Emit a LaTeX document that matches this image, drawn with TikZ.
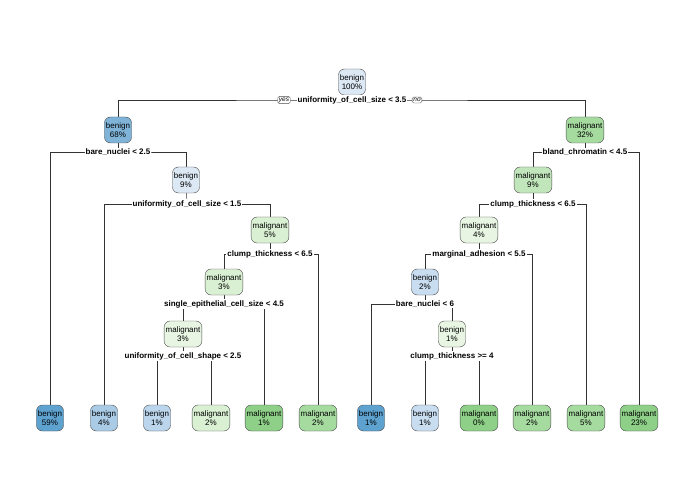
\documentclass[tikz,border=0pt]{standalone}
\usepackage{fontspec}
\setmainfont{Liberation Sans}
\usetikzlibrary{backgrounds}
\begin{document}
\begin{tikzpicture}[x=1pt,y=-1pt,
		tnode/.style={draw=black!70,rounded corners=6pt,align=center,inner sep=1.5pt,
			minimum height=26pt,font=\fontsize{8}{9}\selectfont},
		snode/.style={fill=white,font=\fontsize{8}{9}\selectfont\bfseries,inner sep=1pt},
		ynode/.style={draw=black!70,fill=white,rounded corners=1.5pt,inner sep=1.2pt,font=\fontsize{6.5}{7}\selectfont\itshape},
		edge/.style={draw=black!80,line width=0.5pt}]
	\definecolor{b1}{HTML}{DCE8F4}
	\definecolor{b2}{HTML}{7FB3D8}
	\definecolor{b3}{HTML}{5EA2D0}
	\definecolor{b4}{HTML}{A9CBE6}
	\definecolor{b5}{HTML}{BAD5EC}
	\definecolor{b6}{HTML}{C9DDF0}
	\definecolor{g1}{HTML}{A6DBA0}
	\definecolor{g2}{HTML}{C2E6BC}
	\definecolor{g3}{HTML}{D9F0D3}
	\definecolor{g4}{HTML}{E7F5E2}
	\definecolor{g5}{HTML}{8ED088}
	\useasboundingbox (0,0) rectangle (695,494);
	% internal nodes
	\node[tnode,fill=b1] (n1) at (352,82) {benign\\100\%};
	\node[tnode,fill=b2] (n2) at (118,130) {benign\\68\%};
	\node[tnode,fill=g1] (n3) at (585,130) {malignant\\32\%};
	\node[tnode,fill=b1] (n5) at (186,180) {benign\\9\%};
	\node[tnode,fill=g3] (n11) at (270,230) {malignant\\5\%};
	\node[tnode,fill=g3] (n22) at (224,282) {malignant\\3\%};
	\node[tnode,fill=g4] (n44) at (183,334) {malignant\\3\%};
	\node[tnode,fill=g2] (n6) at (533,180) {malignant\\9\%};
	\node[tnode,fill=g4] (n12) at (479,230) {malignant\\4\%};
	\node[tnode,fill=b6] (n24) at (425,282) {benign\\2\%};
	\node[tnode,fill=g4] (n49) at (452,334) {benign\\1\%};
	% leaves
	\node[tnode,fill=b3] (l1) at (50,418) {benign\\59\%};
	\node[tnode,fill=b4] (l2) at (104,418) {benign\\4\%};
	\node[tnode,fill=b5] (l3) at (157,418) {benign\\1\%};
	\node[tnode,fill=g3] (l4) at (211,418) {malignant\\2\%};
	\node[tnode,fill=g5] (l5) at (264,418) {malignant\\1\%};
	\node[tnode,fill=g1] (l6) at (318,418) {malignant\\2\%};
	\node[tnode,fill=b3] (l7) at (371,418) {benign\\1\%};
	\node[tnode,fill=b6] (l8) at (425,418) {benign\\1\%};
	\node[tnode,fill=g5] (l9) at (479,418) {malignant\\0\%};
	\node[tnode,fill=g1] (l10) at (532,418) {malignant\\2\%};
	\node[tnode,fill=g1] (l11) at (586,418) {malignant\\5\%};
	\node[tnode,fill=g5] (l12) at (639,418) {malignant\\23\%};
	% splits
	\node[snode] (s1) at (352,100) {uniformity\_of\_cell\_size < 3.5};
	\node[snode] (s2) at (118,152) {bare\_nuclei < 2.5};
	\node[snode] (s5) at (187,204) {uniformity\_of\_cell\_size < 1.5};
	\node[snode] (s11) at (270,254) {clump\_thickness < 6.5};
	\node[snode] (s22) at (224,304) {single\_epithelial\_cell\_size < 4.5};
	\node[snode] (s44) at (183,356) {uniformity\_of\_cell\_shape < 2.5};
	\node[snode] (s3) at (585,152) {bland\_chromatin < 4.5};
	\node[snode] (s6) at (533,204) {clump\_thickness < 6.5};
	\node[snode] (s12) at (479,254) {marginal\_adhesion < 5.5};
	\node[snode] (s24) at (425,304) {bare\_nuclei < 6};
	\node[snode] (s49) at (452,356) {clump\_thickness >= 4};
	\node[ynode] (yes) at (284,100) {yes};
	\node[ynode] (no) at (417,100) {no};
	% connectors
	\begin{scope}[on background layer]
		\foreach \P/\S/\L/\R in {n1/s1/n2/n3, n2/s2/l1/n5, n5/s5/l2/n11, n11/s11/n22/l6, n22/s22/n44/l5,
			n44/s44/l3/l4, n3/s3/n6/l12, n6/s6/n12/l11, n12/s12/n24/l10, n24/s24/l7/n49, n49/s49/l8/l9}
			{
				\draw[edge] (\P) -- (\S.center);
				\draw[edge] (\L) |- (\S.center) -| (\R);
			}
	\end{scope}
\end{tikzpicture}
\end{document}
